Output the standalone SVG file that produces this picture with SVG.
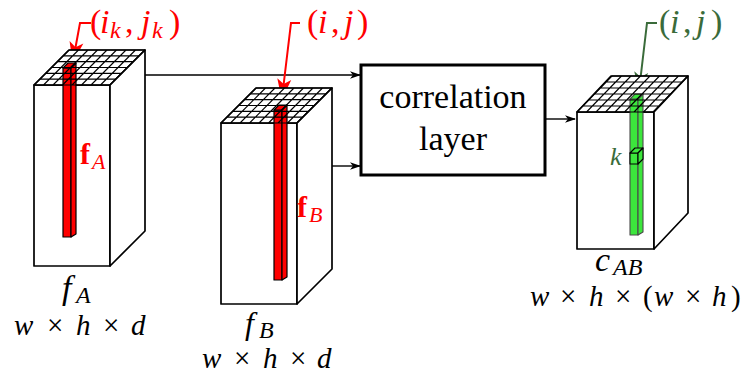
<svg xmlns="http://www.w3.org/2000/svg" xmlns:xlink="http://www.w3.org/1999/xlink" width="746" height="376" viewBox="0 0 746 376">
<style>
.face{fill:#fff;stroke:#000;stroke-width:1.7;stroke-linejoin:round}
.grid{fill:none;stroke:#000;stroke-width:1.1}
.rcol{fill:#ff0000;stroke:#000;stroke-width:1.2;stroke-linejoin:round}
.gcol{fill:#3ce63c;stroke:#4a4a4a;stroke-width:1.1;stroke-linejoin:round}
.cube{fill:#3ce63c;stroke:#000;stroke-width:1.1;stroke-linejoin:round}
text{font-family:'Liberation Serif','DejaVu Serif',serif}
.it{font-style:italic}
.conn{fill:none;stroke:#000;stroke-width:1.4}
</style>
<defs>
<path id="grid" class="grid" d="M0,0 L35,-35 M9.5,0 L44.5,-35 M19,0 L54,-35 M28.5,0 L63.5,-35 M38,0 L73,-35 M47.5,0 L82.5,-35 M57,0 L92,-35 M66.5,0 L101.5,-35 M76,0 L111,-35 M0,0 H76 M5.833,-5.833 H81.833 M11.667,-11.667 H87.667 M17.5,-17.5 H93.5 M23.333,-23.333 H99.333 M29.167,-29.167 H105.167 M35,-35 H111"/>
<marker id="ak" markerUnits="userSpaceOnUse" viewBox="-12 -5 14 10" refX="0" refY="0" markerWidth="14" markerHeight="10" orient="auto" overflow="visible">
<path d="M1,0 L-10,-3.8 L-7,0 L-10,3.8 Z" fill="#000"/>
</marker>
<marker id="ar" markerUnits="userSpaceOnUse" viewBox="-20 -8 24 16" refX="0" refY="0" markerWidth="24" markerHeight="16" orient="auto" overflow="visible">
<path d="M2,0 L-19,-7 L-14,0 L-19,7 Z" fill="#ff0000"/>
</marker>
<marker id="ag" markerUnits="userSpaceOnUse" viewBox="-20 -8 24 16" refX="0" refY="0" markerWidth="24" markerHeight="16" orient="auto" overflow="visible">
<path d="M2,0 L-19,-7 L-14,0 L-19,7 Z" fill="#3a6b3a"/>
</marker>
</defs>

<g id="connectors">
<path class="conn" d="M145,75 H360" marker-end="url(#ak)"/>
<path class="conn" d="M332,166 H360" marker-end="url(#ak)"/>
<path class="conn" d="M545,119 H575" marker-end="url(#ak)"/>
<path fill="none" stroke="#ff0000" stroke-width="2" d="M91,23 H80 L73,61" marker-end="url(#ar)"/>
<path fill="none" stroke="#ff0000" stroke-width="2" d="M300,23 H291 L282,98" marker-end="url(#ar)"/>
<path fill="none" stroke="#3a6b3a" stroke-width="2" d="M657,23 H647 L639,91" marker-end="url(#ag)"/>
</g>

<g id="fA">
<g transform="translate(34,85)">
<rect class="face" x="0" y="0" width="76" height="181"/>
<path class="face" d="M0,0 L76,0 L111,-35 L35,-35 Z"/>
<path class="face" d="M76,0 L111,-35 L111,146 L76,181 Z"/>
<path class="rcol" d="M29,-17 H37 V152 H29 Z"/>
<path class="rcol" d="M37,-17 L42,-22 V149 L37,152 Z"/>
<path class="rcol" d="M29,-17 L34,-22 H42 L37,-17 Z"/>
<use xlink:href="#grid"/>
</g>
<text x="80" y="164" fill="#ff0000" font-size="30" font-weight="bold">f<tspan class="it" font-weight="normal" font-size="22" x="92" dy="5">A</tspan></text>
<text class="it" x="62" y="299" font-size="34">f<tspan font-size="24" x="76" dy="4">A</tspan></text>
<text y="335" font-size="29"><tspan class="it" x="14">w</tspan><tspan x="47">×</tspan><tspan class="it" x="76">h</tspan><tspan x="103">×</tspan><tspan class="it" x="131">d</tspan></text>
</g>

<g id="fB">
<g transform="translate(221,123)">
<rect class="face" x="0" y="0" width="76" height="181"/>
<path class="face" d="M0,0 L76,0 L111,-35 L35,-35 Z"/>
<path class="face" d="M76,0 L111,-35 L111,146 L76,181 Z"/>
<path class="rcol" d="M53,-13 H61 V157 H53 Z"/>
<path class="rcol" d="M61,-13 L66,-18 V154 L61,157 Z"/>
<path class="rcol" d="M53,-13 L58,-18 H66 L61,-13 Z"/>
<use xlink:href="#grid"/>
</g>
<text x="297" y="217" fill="#ff0000" font-size="30" font-weight="bold">f<tspan class="it" font-weight="normal" font-size="22" x="309" dy="5">B</tspan></text>
<text class="it" x="245" y="334" font-size="32">f<tspan font-size="24" x="259" dy="4">B</tspan></text>
<text y="368" font-size="29"><tspan class="it" x="202">w</tspan><tspan x="234">×</tspan><tspan class="it" x="263">h</tspan><tspan x="290">×</tspan><tspan class="it" x="317">d</tspan></text>
</g>

<g id="corr">
<rect x="361" y="65" width="184" height="110" fill="#fff" stroke="#000" stroke-width="3"/>
<text x="453" y="108" font-size="34" text-anchor="middle">correlation</text>
<text x="453" y="150" font-size="34" text-anchor="middle">layer</text>
</g>

<g id="cAB">
<g transform="translate(577,112)">
<rect class="face" x="0" y="0" width="77" height="137"/>
<path class="face" d="M0,0 L77,0 L111,-36 L34,-36 Z"/>
<path class="face" d="M77,0 L111,-36 L111,101 L77,137 Z"/>
<path class="gcol" d="M53,-13 H61 V123 H53 Z"/>
<path class="gcol" d="M61,-13 L66,-18 V120 L61,123 Z"/>
<path class="gcol" d="M53,-13 L58,-18 H66 L61,-13 Z"/>
<path class="cube" d="M53,41 H61 V52 H53 Z"/>
<path class="cube" d="M53,41 L58,36 H66 L61,41 Z"/>
<path class="cube" d="M61,41 L66,36 V47 L61,52 Z"/>
<use xlink:href="#grid" transform="scale(1.0,1.0286)"/>
</g>
<text class="it" x="610" y="165" fill="#3a6b3a" font-size="26">k</text>
<text class="it" x="595" y="271" font-size="34">c<tspan font-size="24" x="613" dy="4">AB</tspan></text>
<text y="306" font-size="29"><tspan class="it" x="530">w</tspan><tspan x="560">×</tspan><tspan class="it" x="589">h</tspan><tspan x="615">×</tspan><tspan x="643">(</tspan><tspan class="it" x="654">w</tspan><tspan x="685">×</tspan><tspan class="it" x="712">h</tspan><tspan x="731">)</tspan></text>
</g>

<g id="labels">
<text y="33" fill="#ff0000" font-size="34"><tspan x="90">(</tspan><tspan class="it" x="100">i</tspan><tspan class="it" x="110" dy="5" font-size="24">k</tspan><tspan x="125" dy="-5">,</tspan><tspan class="it" x="141">j</tspan><tspan class="it" x="152" dy="5" font-size="24">k</tspan><tspan x="169" dy="-5">)</tspan></text>
<text y="33" fill="#ff0000" font-size="34"><tspan x="307">(</tspan><tspan class="it" x="318">i</tspan><tspan x="331">,</tspan><tspan class="it" x="344">j</tspan><tspan x="357">)</tspan></text>
<text y="33" fill="#3a6b3a" font-size="34"><tspan x="659">(</tspan><tspan class="it" x="670">i</tspan><tspan x="683">,</tspan><tspan class="it" x="696">j</tspan><tspan x="711">)</tspan></text>
</g>
</svg>
